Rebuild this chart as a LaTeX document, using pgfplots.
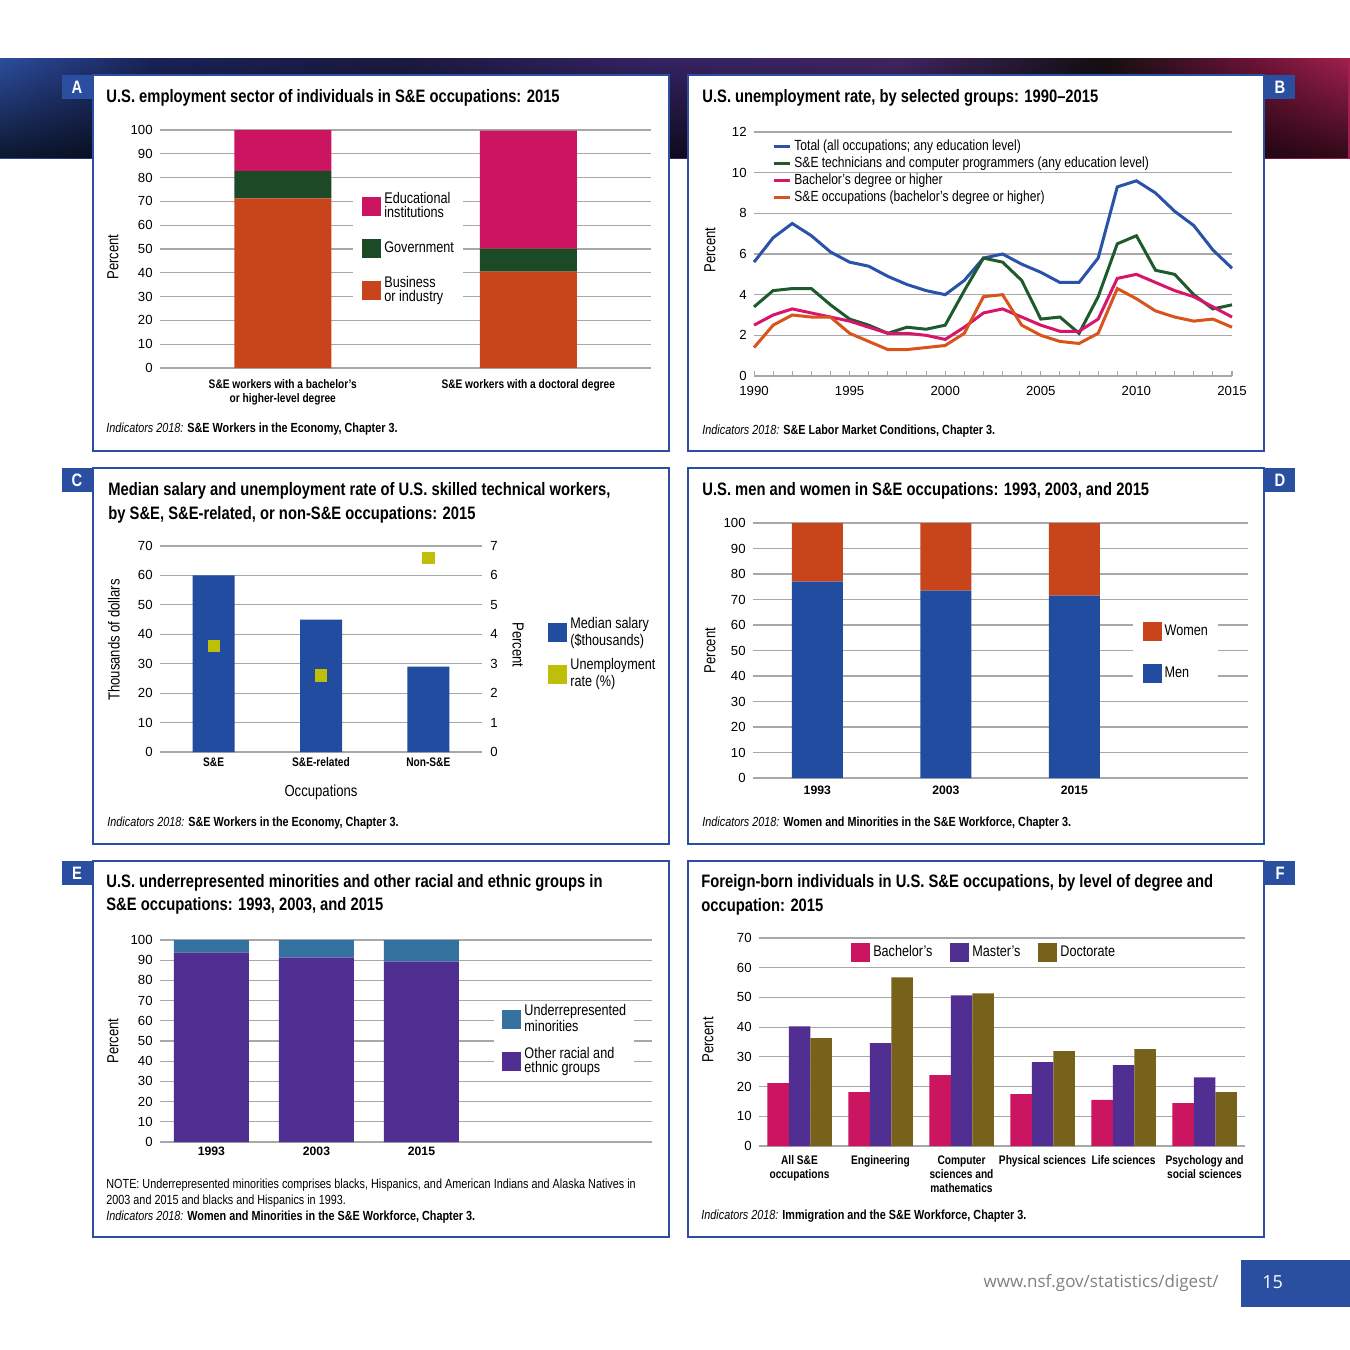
\documentclass[border=0pt]{standalone}
\usepackage{pgfplots}
\pgfplotsset{compat=1.18}
\usepackage{fontspec}
\setmainfont{Liberation Sans}[FakeStretch=0.82]
\newfontfamily\numfont{Liberation Sans}
\newfontfamily\opensans{Open Sans}
\usetikzlibrary{fadings}

\definecolor{nsfblue}{HTML}{2A4EA0}
\definecolor{barblue}{HTML}{214C9F}
\definecolor{crim}{HTML}{CC1560}
\definecolor{dgreen}{HTML}{1C4A26}
\definecolor{orng}{HTML}{C8441A}
\definecolor{purp}{HTML}{512E91}
\definecolor{steel}{HTML}{3572A0}
\definecolor{olive}{HTML}{77621C}
\definecolor{ylw}{HTML}{BFBF0A}
\definecolor{gridgray}{HTML}{A8A8A8}
\definecolor{lblue}{HTML}{2A52A8}
\definecolor{lgreen}{HTML}{1E5A2E}
\definecolor{lpink}{HTML}{D8156A}
\definecolor{lorange}{HTML}{D9541A}
\definecolor{bn0}{HTML}{2C4E9F}
\definecolor{bn1}{HTML}{1A2358}
\definecolor{bn2}{HTML}{1C1A40}
\definecolor{bn3}{HTML}{352363}
\definecolor{bn4}{HTML}{402560}
\definecolor{bn5}{HTML}{141014}
\definecolor{bn6}{HTML}{6A1335}
\definecolor{bn7}{HTML}{A3204F}

\newcommand\ticksize{\numfont\fontsize{6.6}{7}\selectfont}
\newcommand\yearsize{\numfont\bfseries\fontsize{6.1}{7}\selectfont}
\newcommand\catsize{\bfseries\fontsize{6.2}{7}\selectfont}
\newcommand\legsize{\fontsize{7.7}{7}\selectfont}
\newcommand\titlesize{\bfseries\fontsize{9}{12}\selectfont}
\newcommand\capsize{\fontsize{6.6}{8}\selectfont}
\newcommand\labsize{\fontsize{8}{8}\selectfont}

\pgfplotsset{
  panel/.style={
    scale only axis, clip=false,
    axis line style={draw=none},
    major tick length=0pt, minor tick length=0pt,
    ymajorgrids, grid style={draw=gridgray, line width=0.55pt},
    tick label style={font=\ticksize},
    /pgf/number format/assume math mode=true,
    yticklabel style={anchor=east, inner sep=0pt, xshift=-3.5pt},
    xticklabel style={anchor=north, inner sep=0pt, font=\catsize, align=center},
    label style={font=\labsize},
    legend cell align=left,
    legend style={draw=none, fill=white, font=\legsize, inner sep=0pt,
      column sep=1.5pt, nodes={inner sep=0pt, align=left}},
  },
  sq/.style={legend image code/.code={\fill[##1] (0pt,-4.75pt) rectangle (9.5pt,4.75pt);}},
  ln/.style={legend image code/.code={\draw[##1, line width=1.5pt] (0pt,0pt) -- (8pt,0pt);}},
}

\begin{document}
\begin{tikzpicture}[x=0.5pt,y=-0.5pt, txt/.style={anchor=base west, inner sep=0pt}]
\useasboundingbox (0,0) rectangle (1350,1350);
\fill[white] (0,0) rectangle (1350,1350);

% banner
\shade[left color=bn0, right color=bn1] (0,58) rectangle (150.5,158);
\shade[left color=bn1, right color=bn2] (150,58) rectangle (400.5,158);
\shade[left color=bn2, right color=bn3] (400,58) rectangle (650.5,158);
\shade[left color=bn3, right color=bn4] (650,58) rectangle (900.5,158);
\shade[left color=bn4, right color=bn5] (900,58) rectangle (1100.5,158);
\shade[left color=bn5, right color=bn6] (1100,58) rectangle (1250.5,158);
\shade[left color=bn6, right color=bn7] (1250,58) rectangle (1350,158);
\fill[black, path fading=north, opacity=0.7] (0,58) rectangle (1350,158);

% panel frames
\foreach \px/\py in {93/75, 688/75, 93/468, 688/468, 93/861, 688/861}
  \draw[nsfblue, line width=0.7pt, fill=white] (\px,\py) rectangle ++(576,376);

% tabs
\foreach \tx/\ty/\tl in {62/75/A, 1265/75/B, 62/468/C, 1265/468/D, 62/861/E, 1265/861/F}{
  \fill[nsfblue] (\tx,\ty) rectangle ++(30,24);
  \node[white, font=\bfseries\fontsize{9}{9}\selectfont] at (\tx+15,\ty+12) {\tl};
}

% titles
\node[txt, font=\titlesize] at (106,102) {U.S. employment sector of individuals in S\&E occupations: 2015};
\node[txt, font=\titlesize] at (702,102) {U.S. unemployment rate, by selected groups: 1990--2015};
\node[txt, font=\titlesize] at (108,495) {Median salary and unemployment rate of U.S. skilled technical workers,};
\node[txt, font=\titlesize] at (108,519) {by S\&E, S\&E-related, or non-S\&E occupations: 2015};
\node[txt, font=\titlesize] at (702,495) {U.S. men and women in S\&E occupations: 1993, 2003, and 2015};
\node[txt, font=\titlesize] at (106,887) {U.S. underrepresented minorities and other racial and ethnic groups in};
\node[txt, font=\titlesize] at (106,910) {S\&E occupations: 1993, 2003, and 2015};
\node[txt, font=\titlesize] at (701,887) {Foreign-born individuals in U.S. S\&E occupations, by level of degree and};
\node[txt, font=\titlesize] at (701,911) {occupation: 2015};

% captions
\node[txt, font=\capsize] at (106,432) {\textit{Indicators 2018:} \textbf{S\&E Workers in the Economy, Chapter 3.}};
\node[txt, font=\capsize] at (702,434) {\textit{Indicators 2018:} \textbf{S\&E Labor Market Conditions, Chapter 3.}};
\node[txt, font=\capsize] at (107,826) {\textit{Indicators 2018:} \textbf{S\&E Workers in the Economy, Chapter 3.}};
\node[txt, font=\capsize] at (702,826) {\textit{Indicators 2018:} \textbf{Women and Minorities in the S\&E Workforce, Chapter 3.}};
\node[txt, font=\capsize] at (106,1188) {NOTE: Underrepresented minorities comprises blacks, Hispanics, and American Indians and Alaska Natives in};
\node[txt, font=\capsize] at (106,1204) {2003 and 2015 and blacks and Hispanics in 1993.};
\node[txt, font=\capsize] at (106,1220) {\textit{Indicators 2018:} \textbf{Women and Minorities in the S\&E Workforce, Chapter 3.}};
\node[txt, font=\capsize] at (701,1219) {\textit{Indicators 2018:} \textbf{Immigration and the S\&E Workforce, Chapter 3.}};

% footer
\node[anchor=base east, text=gray, inner sep=0pt, font=\opensans\fontsize{8.5}{9}\selectfont] at (1219,1287) {www.nsf.gov/statistics/digest/};
\fill[nsfblue] (1241,1260) rectangle (1350,1307);
\node[txt, text=white, font=\opensans\fontsize{9}{10}\selectfont] at (1262,1288) {15};

% ---------- A ----------
\begin{axis}[panel, at={(80pt,-184pt)}, anchor=south west, width=245.5pt, height=119pt,
  ymin=0, ymax=100, ytick={0,10,...,100},
  xmin=-0.5, xmax=1.5, xtick={0,1},
  xticklabels={{S\&E workers with a bachelor's\\or higher-level degree},{S\&E workers with a doctoral degree}},
  xticklabel style={yshift=-5.5pt},
  ybar stacked, bar width=48.5pt,
  ylabel={Percent}, ylabel style={at={(axis description cs:-0.096,0.466)}, anchor=center},
  reverse legend,
  legend style={at={(0.393,0.769)}, anchor=north west, inner xsep=4.5pt, inner ysep=3.5pt, row sep=9.2pt},
]
\addplot[fill=orng, draw=none, sq] coordinates {(0,71.3) (1,40.5)};
\addplot[fill=dgreen, draw=none, sq] coordinates {(0,11.4) (1,9.7)};
\addplot[fill=crim, draw=none, sq] coordinates {(0,17.3) (1,49.5)};
\legend{{Business\\or industry}, Government, {Educational\\institutions}}
\end{axis}

% ---------- B ----------
\begin{axis}[panel, at={(377pt,-188pt)}, anchor=south west, width=239pt, height=122pt,
  ymin=0, ymax=12, ytick={0,2,...,12},
  xmin=1990, xmax=2015, xtick={1990,1995,...,2015}, minor xtick={1990,...,2015},
  /pgf/number format/1000 sep={},
  xticklabel style={font=\ticksize, yshift=-5pt},
  major tick length=2.5pt, minor tick length=2.5pt, tick align=inside,
  xtick pos=left, xtick style={draw=gridgray, line width=0.5pt},
  ytick style={draw=none},
  ylabel={Percent}, ylabel style={at={(axis description cs:-0.092,0.516)}, anchor=center},
  legend style={at={(0.0377,0.969)}, anchor=north west, fill=none, row sep=1.7pt,
    font=\fontsize{7.35}{7}\selectfont},
]
\addplot[lblue, line width=1.5pt, ln] coordinates {
(1990,5.6) (1991,6.8) (1992,7.5) (1993,6.9) (1994,6.1) (1995,5.6) (1996,5.4)
(1997,4.9) (1998,4.5) (1999,4.2) (2000,4.0) (2001,4.7) (2002,5.8) (2003,6.0)
(2004,5.5) (2005,5.1) (2006,4.6) (2007,4.6) (2008,5.8) (2009,9.3) (2010,9.6)
(2011,9.0) (2012,8.1) (2013,7.4) (2014,6.2) (2015,5.3)};
\addlegendentry{Total (all occupations; any education level)}
\addplot[lgreen, line width=1.5pt, ln] coordinates {
(1990,3.4) (1991,4.2) (1992,4.3) (1993,4.3) (1994,3.5) (1995,2.8) (1996,2.5)
(1997,2.1) (1998,2.4) (1999,2.3) (2000,2.5) (2001,4.2) (2002,5.8) (2003,5.6)
(2004,4.7) (2005,2.8) (2006,2.9) (2007,2.1) (2008,3.9) (2009,6.5) (2010,6.9)
(2011,5.2) (2012,5.0) (2013,4.0) (2014,3.3) (2015,3.5)};
\addlegendentry{S\&E technicians and computer programmers (any education level)}
\addplot[lpink, line width=1.5pt, ln] coordinates {
(1990,2.5) (1991,3.0) (1992,3.3) (1993,3.1) (1994,2.9) (1995,2.7) (1996,2.4)
(1997,2.1) (1998,2.1) (1999,2.0) (2000,1.8) (2001,2.4) (2002,3.1) (2003,3.3)
(2004,2.9) (2005,2.5) (2006,2.2) (2007,2.2) (2008,2.8) (2009,4.8) (2010,5.0)
(2011,4.6) (2012,4.2) (2013,3.9) (2014,3.4) (2015,2.9)};
\addlegendentry{Bachelor's degree or higher}
\addplot[lorange, line width=1.5pt, ln] coordinates {
(1990,1.4) (1991,2.5) (1992,3.0) (1993,2.9) (1994,2.9) (1995,2.1) (1996,1.7)
(1997,1.3) (1998,1.3) (1999,1.4) (2000,1.5) (2001,2.1) (2002,3.9) (2003,4.0)
(2004,2.5) (2005,2.0) (2006,1.7) (2007,1.6) (2008,2.1) (2009,4.3) (2010,3.8)
(2011,3.2) (2012,2.9) (2013,2.7) (2014,2.8) (2015,2.4)};
\addlegendentry{S\&E occupations (bachelor's degree or higher)}
\end{axis}

% ---------- C ----------
\begin{axis}[panel, at={(80pt,-376pt)}, anchor=south west, width=161pt, height=103pt,
  ymin=0, ymax=70, ytick={0,10,...,70},
  xmin=-0.5, xmax=2.5, xtick={0,1,2},
  xticklabels={S\&E, S\&E-related, Non-S\&E},
  xticklabel style={yshift=-2.5pt},
  ybar, bar width=21pt,
  ylabel={Thousands of dollars}, ylabel style={at={(axis description cs:-0.143,0.544)}, anchor=center},
  xlabel={Occupations}, xlabel style={at={(axis description cs:0.5,-0.194)}, anchor=center},
  legend style={at={(1.205,0.655)}, anchor=north west, fill=none, row sep=5.3pt},
]
\addplot[fill=barblue, draw=none, sq] coordinates {(0,60) (1,45) (2,29)};
\addlegendentry{Median salary\\(\$thousands)}
\addlegendimage{fill=ylw, draw=none, sq}
\addlegendentry{Unemployment\\rate (\%)}
\end{axis}
\begin{axis}[panel, at={(80pt,-376pt)}, anchor=south west, width=161pt, height=103pt,
  ymin=0, ymax=7, ytick={0,1,...,7}, ymajorgrids=false,
  xmin=-0.5, xmax=2.5, xtick=\empty,
  yticklabel pos=right,
  yticklabel style={anchor=west, xshift=7.5pt},
  ylabel={Percent},
  every axis y label/.style={at={(axis description cs:1.112,0.52)}, anchor=center, rotate=-90, font=\labsize},
]
\addplot[only marks, mark=square*, mark size=2.8pt, color=ylw] coordinates {(0,3.6) (1,2.6) (2,6.6)};
\end{axis}

% ---------- D ----------
\begin{axis}[panel, at={(376.5pt,-389pt)}, anchor=south west, width=247.5pt, height=127.5pt,
  ymin=0, ymax=100, ytick={0,10,...,100},
  xmin=-0.5, xmax=3.35, xtick={0,1,2},
  xticklabels={1993, 2003, 2015},
  xticklabel style={yshift=-4pt, font=\yearsize},
  ybar stacked, bar width=25.5pt,
  ylabel={Percent}, ylabel style={at={(axis description cs:-0.087,0.5)}, anchor=center},
  reverse legend,
  legend style={at={(0.766,0.651)}, anchor=north west, inner xsep=5pt, inner ysep=5pt, row sep=11.25pt},
]
\addplot[fill=barblue, draw=none, sq] coordinates {(0,77.0) (1,73.5) (2,71.5)};
\addplot[fill=orng, draw=none, sq] coordinates {(0,23.0) (1,26.5) (2,28.5)};
\legend{Men, Women}
\end{axis}

% ---------- E ----------
\begin{axis}[panel, at={(80pt,-571pt)}, anchor=south west, width=246pt, height=101pt,
  ymin=0, ymax=100, ytick={0,10,...,100},
  xmin=-0.49, xmax=4.195, xtick={0,1,2},
  xticklabels={1993, 2003, 2015},
  xticklabel style={yshift=-2.5pt, font=\yearsize},
  ybar stacked, bar width=37.5pt,
  ylabel={Percent}, ylabel style={at={(axis description cs:-0.0955,0.5)}, anchor=center},
  reverse legend,
  legend style={at={(0.679,0.693)}, anchor=north west, inner xsep=4pt, inner ysep=1pt, row sep=6pt},
]
\addplot[fill=purp, draw=none, sq] coordinates {(0,93.7) (1,91.3) (2,89.3)};
\addplot[fill=steel, draw=none, sq] coordinates {(0,6.3) (1,8.7) (2,10.7)};
\legend{{Other racial and\\ethnic groups}, {Underrepresented\\minorities}}
\end{axis}

% ---------- F ----------
\begin{axis}[panel, at={(379.5pt,-573pt)}, anchor=south west, width=243pt, height=104pt,
  ymin=0, ymax=70, ytick={0,10,...,70},
  xmin=-0.5, xmax=5.5, xtick={0,...,5},
  xticklabels={{All S\&E\\occupations}, Engineering, {Computer\\sciences and\\mathematics},
    {Physical sciences}, {Life sciences}, {Psychology and\\social sciences}},
  xticklabel style={yshift=-4.5pt},
  ybar=0pt, bar width=10.75pt,
  ylabel={Percent}, ylabel style={at={(axis description cs:-0.105,0.51)}, anchor=center},
  legend columns=3,
  legend style={at={(0.189,0.930)}, anchor=west, fill=none,
    /tikz/every even column/.append style={column sep=9pt}},
]
\addplot[fill=crim, draw=none, sq] coordinates {(0,21.2) (1,18.1) (2,23.9) (3,17.5) (4,15.5) (5,14.4)};
\addplot[fill=purp, draw=none, sq] coordinates {(0,40.3) (1,34.6) (2,50.7) (3,28.2) (4,27.2) (5,23.1)};
\addplot[fill=olive, draw=none, sq] coordinates {(0,36.3) (1,56.8) (2,51.4) (3,31.9) (4,32.6) (5,18.1)};
\legend{Bachelor's, Master's, Doctorate}
\end{axis}
\end{tikzpicture}
\end{document}
